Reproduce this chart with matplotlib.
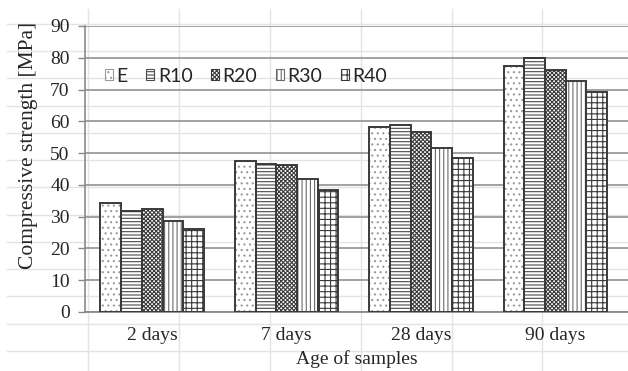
import matplotlib
matplotlib.use("Agg")
import matplotlib.pyplot as plt
from matplotlib.patches import Patch
from matplotlib.lines import Line2D
import numpy as np

categories = ["2 days", "7 days", "28 days", "90 days"]
series = ["E", "R10", "R20", "R30", "R40"]
E = [34.4, 47.5, 58.1, 77.3]
R10 = [31.9, 46.7, 58.9, 80.0]
R20 = [32.3, 46.3, 56.6, 76.0]
R30 = [28.7, 41.8, 51.6, 72.6]
R40 = [26.0, 38.3, 48.5, 69.3]
values = [E, R10, R20, R30, R40]
yticks = [0, 10, 20, 30, 40, 50, 60, 70, 80, 90]

hatches = ["...", "-----", "xxxxxxxx", "||||", "+++"]
hatch_colors = ["#9a9a9a", "#4a4a4a", "#3a3a3a", "#6a6a6a", "#3a3a3a"]
edge = "#3a3a3a"

plt.rcParams["hatch.linewidth"] = 0.8
W, H = 628, 371
fig = plt.figure(figsize=(W / 100, H / 100), dpi=100)
fig.patch.set_facecolor("white")

# spreadsheet cell lines in the background
cell_c = "#e3e3e3"
for k in range(13):
    y = 24 + 27.23 * k
    fig.add_artist(Line2D([7 / W, 1], [1 - y / H, 1 - y / H], transform=fig.transFigure,
                          color=cell_c, lw=1.0, zorder=0))
for k in range(7):
    x = 88.3 + 90.8 * k
    if x < W:
        fig.add_artist(Line2D([x / W, x / W], [0, 1 - 9 / H], transform=fig.transFigure,
                              color=cell_c, lw=1.0, zorder=0))

left, right, top, bottom = 85, 628, 26, 312
ax = fig.add_axes([left / W, 1 - bottom / H, (right - left) / W, (bottom - top) / H])
ax.set_facecolor("none")

cat_px = 134.4
x = np.arange(len(categories))
bw = 20.7 / cat_px
for i, (vals, h, hc) in enumerate(zip(values, hatches, hatch_colors)):
    pos = x + (i - 2) * bw
    ax.bar(pos, vals, bw, color="white", edgecolor=hc, hatch=h, linewidth=0, zorder=3)
    ax.bar(pos, vals, bw, fill=False, edgecolor=edge, linewidth=1.4, zorder=4)

ax.set_xlim(-0.5, -0.5 + (right - left) / cat_px)
ax.set_ylim(0, 90)
ax.set_yticks(yticks)
ax.set_xticks(x)
ax.set_xticklabels(categories)
ax.grid(axis="y", color="#9a9a9a", lw=1.3, zorder=1)
ax.set_axisbelow(True)
for s in ["top", "right"]:
    ax.spines[s].set_visible(False)
ax.spines["left"].set_color("#8a8a8a")
ax.spines["left"].set_linewidth(1.2)
ax.spines["bottom"].set_color("#8a8a8a")
ax.spines["bottom"].set_linewidth(1.3)
ax.tick_params(axis="y", direction="out", length=5, width=1.0, color="#8a8a8a", pad=6,
               labelsize=14, labelcolor="#262626")
ax.tick_params(axis="x", length=0, pad=11, labelsize=14, labelcolor="#262626")
for lab in ax.get_yticklabels() + ax.get_xticklabels():
    lab.set_fontfamily("Liberation Serif")

ax.set_ylabel("Compressive strength [MPa]", fontsize=15.5, family="Liberation Serif",
              color="#262626")
ax.yaxis.set_label_coords(-0.086, 0.584)
ax.set_xlabel("Age of samples", fontsize=14, family="Liberation Serif",
              color="#262626", labelpad=4)

handles = [Patch(facecolor="white", edgecolor=hc, hatch=h, linewidth=0.8)
           for h, hc in zip(hatches, hatch_colors)]
leg = ax.legend(handles, series, loc="center left", bbox_to_anchor=(12 / (right - left), 0.825),
                ncol=5, frameon=False, handlelength=0.4, handleheight=0.45,
                handletextpad=0.2, columnspacing=0.95, borderaxespad=0,
                prop={"family": "Lato", "size": 14})
for t in leg.get_texts():
    t.set_color("#262626")

fig.savefig("out.png", dpi=100, facecolor="white")
